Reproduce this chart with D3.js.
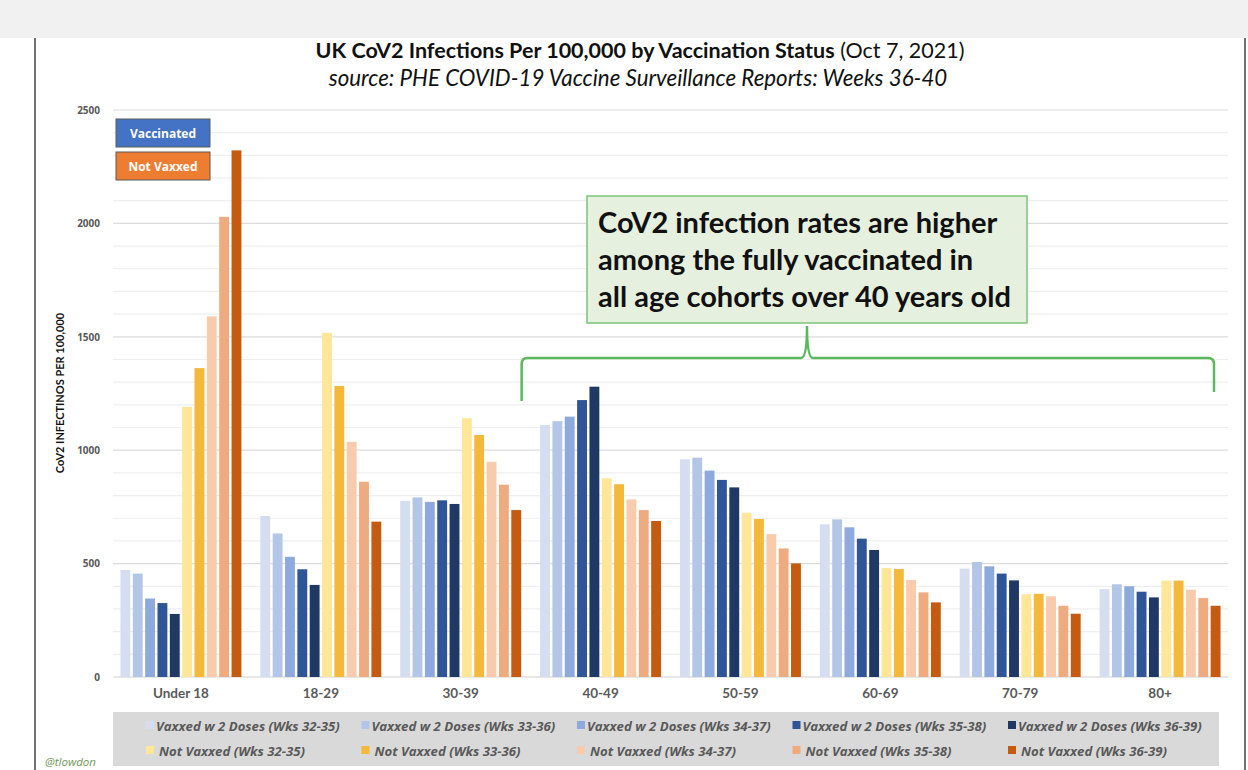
<!DOCTYPE html>
<html>
<head>
<meta charset="utf-8">
<script src="https://cdn.jsdelivr.net/npm/d3@7"></script>
<style>
  body { margin: 0; background: #fff; }
  svg { display: block; }
</style>
</head>
<body>
<div id="chart"></div>
<script>
var width = 1248,
    height = 770

var ageGroups = ['Under 18', '18-29', '30-39', '40-49', '50-59', '60-69', '70-79', '80+']

var seriesNames = [
    'Vaxxed w 2 Doses (Wks 32-35)', 'Vaxxed w 2 Doses (Wks 33-36)', 'Vaxxed w 2 Doses (Wks 34-37)',
    'Vaxxed w 2 Doses (Wks 35-38)', 'Vaxxed w 2 Doses (Wks 36-39)',
    'Not Vaxxed (Wks 32-35)', 'Not Vaxxed (Wks 33-36)', 'Not Vaxxed (Wks 34-37)',
    'Not Vaxxed (Wks 35-38)', 'Not Vaxxed (Wks 36-39)'
]

var seriesColors = ['#d5ddf0', '#b4c6e7', '#8ea9db', '#2f5597', '#1f3864',
                    '#ffe699', '#f4b93a', '#f8cbad', '#eeab80', '#c55a11']

// one array per series, in age group order
var vax3235 = [472, 710, 777, 1111, 960, 673, 478, 387]
var vax3336 = [456, 633, 792, 1128, 967, 695, 507, 409]
var vax3437 = [346, 530, 772, 1148, 910, 660, 488, 400]
var vax3538 = [326, 475, 779, 1221, 869, 610, 456, 376]
var vax3639 = [278, 406, 763, 1280, 836, 560, 426, 351]
var nv3235 = [1191, 1518, 1141, 876, 724, 481, 365, 425]
var nv3336 = [1362, 1283, 1067, 850, 697, 476, 367, 425]
var nv3437 = [1590, 1037, 949, 783, 630, 428, 356, 385]
var nv3538 = [2029, 861, 848, 736, 567, 373, 314, 348]
var nv3639 = [2322, 685, 736, 688, 501, 329, 279, 314]

var seriesValues = [vax3235, vax3336, vax3437, vax3538, vax3639,
                    nv3235, nv3336, nv3437, nv3538, nv3639]

var yTicks = [0, 500, 1000, 1500, 2000, 2500]

var noteLines = ['CoV2 infection rates are higher',
                 'among the fully vaccinated in',
                 'all age cohorts over 40 years old']

var svg = d3.select('#chart').append('svg')
    .attr('width', width)
    .attr('height', height)

// light grey band at the top and the frame lines
svg.append('rect').attr('x', 0).attr('y', 0).attr('width', width).attr('height', 38).attr('fill', '#f1f1f1')
svg.append('line').attr('x1', 35).attr('x2', 35).attr('y1', 38).attr('y2', height).attr('stroke', '#444').attr('stroke-width', 1.5)
svg.append('line').attr('x1', 1245).attr('x2', 1245).attr('y1', 38).attr('y2', height).attr('stroke', '#444').attr('stroke-width', 1.5)

var x = d3.scaleBand()
    .domain(ageGroups)
    .range([111, 1230])
    .paddingInner(0.1)
    .paddingOuter(0.05)

var x1 = d3.scaleBand()
    .domain(d3.range(seriesNames.length))
    .range([0, x.bandwidth()])
    .padding(0.2)

var y = d3.scaleLinear()
    .domain([0, 2500])
    .range([677, 110])

// gridlines, every 100
svg.append('g')
    .selectAll('line')
    .data(d3.range(100, 2600, 100))
    .enter().append('line')
        .attr('x1', 113)
        .attr('x2', 1228)
        .attr('y1', function(d) { return y(d) })
        .attr('y2', function(d) { return y(d) })
        .attr('stroke', function(d) { return d % 500 === 0 ? '#dcdcdc' : '#eeeeee' })
        .attr('stroke-width', 1.2)

svg.append('line')
    .attr('x1', 113).attr('x2', 1228)
    .attr('y1', y(0)).attr('y2', y(0))
    .attr('stroke', '#d0d0d0').attr('stroke-width', 1.2)

var yAxis = svg.append('g')
    .attr('transform', 'translate(100,0)')
    .call(d3.axisLeft(y).tickValues(yTicks).tickFormat(d3.format('d')).tickSize(0).tickPadding(0))
yAxis.select('.domain').remove()
yAxis.selectAll('text')
    .attr('font-family', '"Open Sans", sans-serif')
    .attr('font-weight', 'bold')
    .attr('font-size', 10)
    .attr('fill', '#595959')

svg.append('text')
    .attr('transform', 'translate(64,393) rotate(-90)')
    .attr('text-anchor', 'middle')
    .attr('font-family', 'Lato, "Open Sans", sans-serif')
    .attr('font-weight', 'bold')
    .attr('font-size', 11)
    .attr('fill', '#111')
    .text('CoV2 INFECTINOS PER 100,000')

var xAxis = svg.append('g')
    .attr('transform', 'translate(0,' + y(0) + ')')
    .call(d3.axisBottom(x).tickSize(0).tickPadding(11))
xAxis.select('.domain').remove()
xAxis.selectAll('text')
    .attr('font-family', 'Lato, "Open Sans", sans-serif')
    .attr('font-weight', 'bold')
    .attr('font-size', 13.5)
    .attr('fill', '#595959')

// bars
var groups = svg.append('g')
    .selectAll('g')
    .data(ageGroups)
    .enter().append('g')
        .attr('transform', function(d) { return 'translate(' + x(d) + ',0)' })

groups.selectAll('rect')
    .data(function(d, gi) {
        return seriesValues.map(function(vals, si) { return { s: si, v: vals[gi] } })
    })
    .enter().append('rect')
        .attr('x', function(d) { return x1(d.s) })
        .attr('width', x1.bandwidth())
        .attr('y', function(d) { return y(d.v) })
        .attr('height', function(d) { return y(0) - y(d.v) })
        .attr('fill', function(d) { return seriesColors[d.s] })

// titles
var title = svg.append('text')
    .attr('x', 640)
    .attr('y', 58)
    .attr('text-anchor', 'middle')
    .attr('font-family', 'Lato, "Open Sans", sans-serif')
    .attr('font-size', 21.5)
    .attr('fill', '#111')
title.append('tspan').attr('font-weight', 'bold').text('UK CoV2 Infections Per 100,000 by Vaccination Status')
title.append('tspan').text(' (Oct 7, 2021)')

svg.append('text')
    .attr('x', 638)
    .attr('y', 86)
    .attr('text-anchor', 'middle')
    .attr('font-family', 'Lato, "Open Sans", sans-serif')
    .attr('font-style', 'italic')
    .attr('font-size', 22.3)
    .attr('fill', '#111')
    .text('source: PHE COVID-19 Vaccine Surveillance Reports: Weeks 36-40')

// Vaccinated / Not Vaxxed boxes
var keys = [{ label: 'Vaccinated', fill: '#4472c4' }, { label: 'Not Vaxxed', fill: '#ed7d31' }]
var keyG = svg.append('g').selectAll('g')
    .data(keys)
    .enter().append('g')
        .attr('transform', function(d, i) { return 'translate(116,' + (119 + i * 33) + ')' })
keyG.append('rect')
    .attr('width', 94).attr('height', 28)
    .attr('fill', function(d) { return d.fill })
    .attr('stroke', '#5a5a5a').attr('stroke-width', 1)
keyG.append('text')
    .attr('x', 47).attr('y', 18.5)
    .attr('text-anchor', 'middle')
    .attr('font-family', '"Open Sans", sans-serif')
    .attr('font-weight', 'bold')
    .attr('font-size', 12)
    .attr('fill', '#fff')
    .text(function(d) { return d.label })

// annotation box
svg.append('rect')
    .attr('x', 587).attr('y', 196)
    .attr('width', 440).attr('height', 127)
    .attr('fill', '#e6f0de')
    .attr('stroke', '#7cc47a').attr('stroke-width', 1.5)

svg.append('g').selectAll('text')
    .data(noteLines)
    .enter().append('text')
        .attr('x', 598)
        .attr('y', function(d, i) { return 233 + i * 37 })
        .attr('font-family', 'Lato, "Open Sans", sans-serif')
        .attr('font-weight', 'bold')
        .attr('font-size', 29)
        .attr('fill', '#111')
        .text(function(d) { return d })

// curly brace spanning 40-49 .. 80+
var braceLeft = x('40-49') - 16, braceRight = 1214, braceMid = 807, braceY = 358
var brace = d3.path()
brace.moveTo(braceLeft, 401)
brace.lineTo(braceLeft, braceY + 6)
brace.quadraticCurveTo(braceLeft, braceY, braceLeft + 6, braceY)
brace.lineTo(braceMid - 6, braceY)
brace.quadraticCurveTo(braceMid, braceY, braceMid, 326)
brace.quadraticCurveTo(braceMid, braceY, braceMid + 6, braceY)
brace.lineTo(braceRight - 6, braceY)
brace.quadraticCurveTo(braceRight, braceY, braceRight, braceY + 6)
brace.lineTo(braceRight, 392)
svg.append('path')
    .attr('d', brace.toString())
    .attr('fill', 'none')
    .attr('stroke', '#5cb85c')
    .attr('stroke-width', 2.5)

// bottom legend
svg.append('rect')
    .attr('x', 113).attr('y', 712)
    .attr('width', 1106).attr('height', 54)
    .attr('fill', '#d9d9d9')

var legItems = svg.append('g').selectAll('g')
    .data(seriesNames)
    .enter().append('g')
        .attr('transform', function(d, i) {
            return 'translate(' + (146 + (i % 5) * 215.5) + ',' + (726 + Math.floor(i / 5) * 25) + ')'
        })
legItems.append('rect')
    .attr('x', 0).attr('y', -5)
    .attr('width', 8).attr('height', 8)
    .attr('fill', function(d, i) { return seriesColors[i] })
legItems.append('text')
    .attr('x', function(d, i) { return i < 5 ? 10 : 13 })
    .attr('y', 4.5)
    .attr('font-family', '"Open Sans", sans-serif')
    .attr('font-weight', 'bold')
    .attr('font-style', 'italic')
    .attr('font-size', 13.2)
    .attr('fill', '#595959')
    .text(function(d) { return d })

svg.append('text')
    .attr('x', 45).attr('y', 766)
    .attr('font-family', '"Open Sans", sans-serif')
    .attr('font-style', 'italic')
    .attr('font-size', 11.5)
    .attr('fill', '#6f9a5a')
    .text('@tlowdon')
</script>
</body>
</html>
